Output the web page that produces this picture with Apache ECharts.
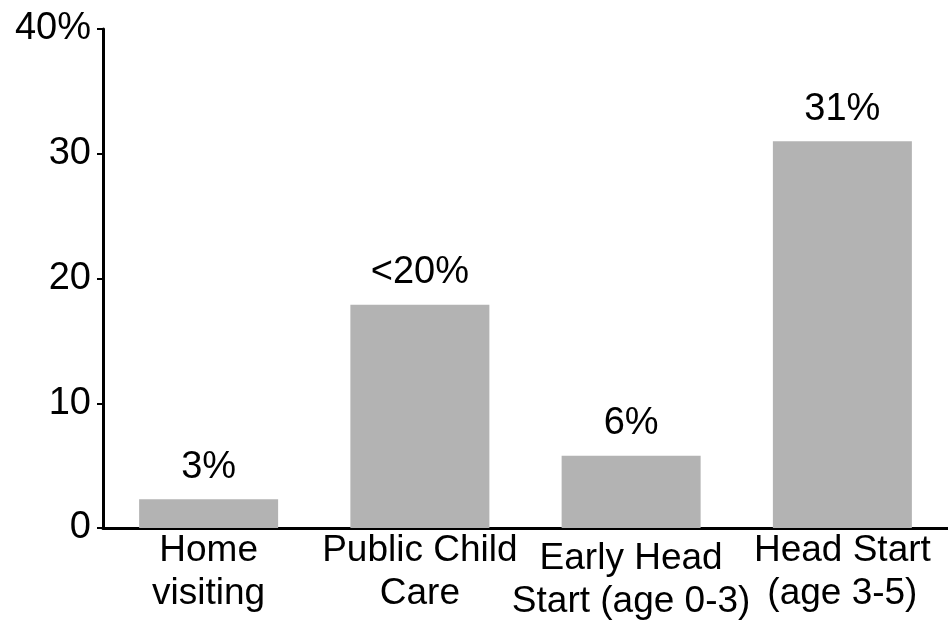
<!DOCTYPE html>
<html>
<head>
<meta charset="utf-8">
<script src="https://cdn.jsdelivr.net/npm/echarts@6/dist/echarts.min.js"></script>
<style>
html,body{margin:0;padding:0;background:#fff;}
#chart{width:948px;height:623px;}
</style>
</head>
<body>
<div id="chart"></div>
<script>
const categories = ['Home\nvisiting', 'Public Child\nCare', 'Early Head\nStart (age 0-3)', 'Head Start\n(age 3-5)'];
const values = [2.3, 17.9, 5.8, 31];
const barLabels = ['3%', '<20%', '6%', '31%'];
const yTicks = [0, 10, 20, 30, 40];
const yTickLabels = ['0', '10', '20', '30', '40%'];

const FONT = "'Liberation Sans', Arial, Helvetica, sans-serif";
const chart = echarts.init(document.getElementById('chart'));
chart.setOption({
  animation: false,
  backgroundColor: '#ffffff',
  grid: { left: 103, width: 851, top: 29, bottom: 94, containLabel: false },
  xAxis: {
    type: 'category',
    data: categories.map((c, i) => i === 2
      ? { value: c, textStyle: { padding: [8, 0, 0, 0] } }
      : c),
    axisLine: { lineStyle: { color: '#000', width: 3 } },
    axisTick: { show: false },
    axisLabel: {
      interval: 0,
      margin: 1,
      color: '#000',
      fontFamily: FONT,
      fontSize: 37,
      lineHeight: 43,
      verticalAlign: 'top'
    }
  },
  yAxis: {
    type: 'value',
    min: yTicks[0],
    max: yTicks[yTicks.length - 1],
    interval: 10,
    splitLine: { show: false },
    axisLine: { show: true, lineStyle: { color: '#000', width: 3 } },
    axisTick: { show: true, length: 6, lineStyle: { color: '#000', width: 2 } },
    axisLabel: {
      margin: 12,
      color: '#000',
      fontFamily: FONT,
      fontSize: 38,
      formatter: v => yTickLabels[yTicks.indexOf(v)]
    }
  },
  series: [{
    type: 'bar',
    data: values,
    barWidth: 139,
    itemStyle: { color: '#b3b3b3' },
    label: {
      show: true,
      position: 'top',
      distance: 13,
      color: '#000',
      fontFamily: FONT,
      fontSize: 38,
      formatter: p => barLabels[p.dataIndex]
    }
  }]
});
</script>
</body>
</html>
